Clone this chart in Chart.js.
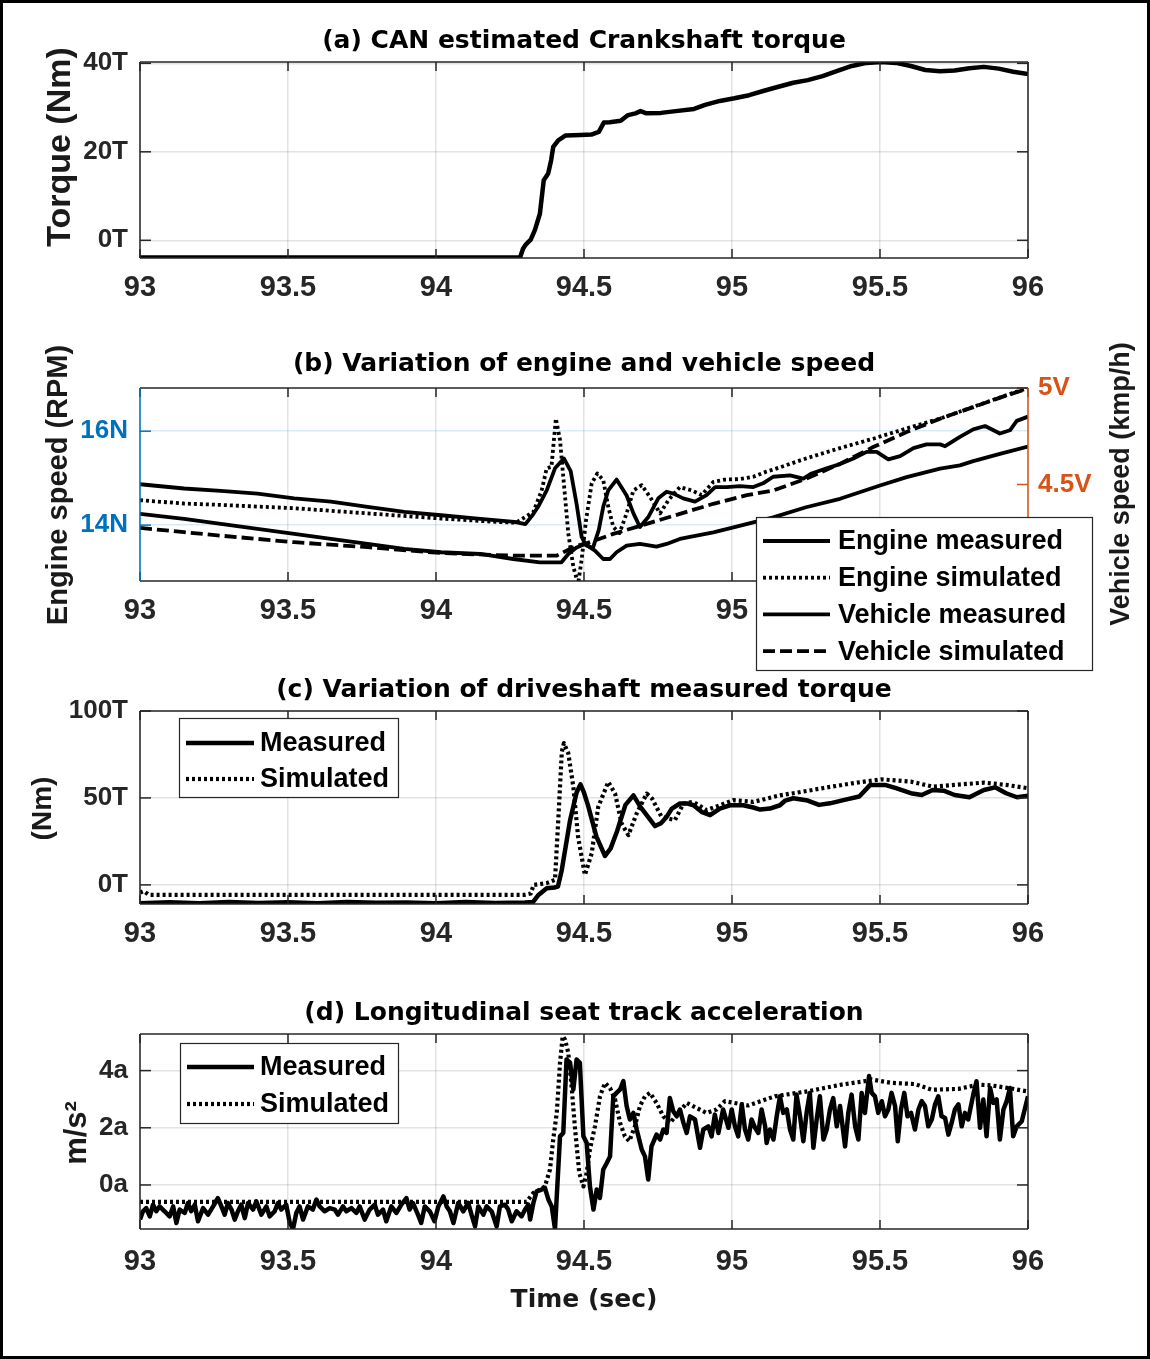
<!DOCTYPE html>
<html>
<head>
<meta charset="utf-8">
<title>Crankshaft torque, engine and vehicle speed, driveshaft torque, seat track acceleration</title>
<script src="https://cdn.jsdelivr.net/npm/chart.js@4.4.1/dist/chart.umd.min.js"></script>
<style>
  html, body { margin: 0; padding: 0; background: #fff; }
  #page { position: relative; width: 1150px; height: 1359px; background: #fff; overflow: hidden; }
  #page canvas { position: absolute; left: 0; }
  #frame { position: absolute; left: 0; top: 0; width: 1150px; height: 1359px; box-sizing: border-box; border: 3px solid #000; pointer-events: none; }
</style>
</head>
<body>
<div id="page">
  <canvas id="crankChart" width="1150" height="322" style="top:0px"></canvas>
  <canvas id="speedChart" width="1150" height="353" style="top:322px"></canvas>
  <canvas id="driveChart" width="1150" height="310" style="top:660px"></canvas>
  <canvas id="accelChart" width="1150" height="389" style="top:970px"></canvas>
  <div id="frame"></div>
</div>
<script>
// ---- shared axis ticks
const timeTicks = [93, 93.5, 94, 94.5, 95, 95.5, 96];
const crankTicks = [0, 20, 40];
const engineTicks = [14, 16];
const vehicleTicks = [4, 4.5, 5];
const driveTicks = [0, 50, 100];
const accelTicks = [0, 2, 4];

// ---- (a) CAN estimated crankshaft torque
const crankTime = [93.000, 94.284, 94.294, 94.304, 94.320, 94.334, 94.351, 94.364, 94.379, 94.389, 94.396, 94.413, 94.438, 94.488, 94.525, 94.550, 94.567, 94.587, 94.624, 94.649, 94.674, 94.691, 94.711, 94.760, 94.810, 94.872, 94.909, 94.959, 95.008, 95.058, 95.108, 95.157, 95.207, 95.256, 95.306, 95.356, 95.405, 95.455, 95.504, 95.554, 95.604, 95.653, 95.703, 95.752, 95.802, 95.851, 95.901, 95.950, 96.000];
const crankTorque = [-3.9, -3.9, -1.9, -0.9, 0.15, 2.3, 6.0, 13.6, 15.1, 18.1, 21.1, 22.6, 23.7, 23.8, 23.9, 24.5, 26.6, 26.7, 27.0, 28.3, 28.7, 29.2, 28.7, 28.8, 29.2, 29.7, 30.6, 31.5, 32.1, 32.8, 33.8, 34.7, 35.6, 36.2, 37.1, 38.3, 39.4, 40.1, 40.3, 40.1, 39.4, 38.5, 38.2, 38.4, 38.9, 39.2, 38.8, 38.1, 37.6];

// ---- (b) engine speed (left axis) and vehicle speed (right axis)
const engMeasTime = [93.000, 93.149, 93.273, 93.397, 93.521, 93.645, 93.769, 93.893, 94.017, 94.141, 94.265, 94.302, 94.327, 94.345, 94.374, 94.402, 94.432, 94.455, 94.475, 94.492, 94.507, 94.530, 94.550, 94.565, 94.582, 94.610, 94.644, 94.667, 94.689, 94.718, 94.751, 94.779, 94.802, 94.835, 94.875, 94.914, 94.943, 94.982, 95.027, 95.072, 95.105, 95.139, 95.196, 95.241, 95.269, 95.320, 95.365, 95.410, 95.455, 95.489, 95.528, 95.568, 95.613, 95.657, 95.703, 95.720, 95.770, 95.815, 95.855, 95.905, 95.939, 95.962, 96.000];
const engMeas = [14.87, 14.78, 14.73, 14.67, 14.57, 14.50, 14.39, 14.28, 14.21, 14.14, 14.07, 14.02, 14.22, 14.39, 14.74, 15.21, 15.42, 15.15, 14.45, 13.75, 13.57, 13.51, 13.90, 14.39, 14.74, 14.97, 14.63, 14.25, 13.96, 14.18, 14.57, 14.71, 14.67, 14.57, 14.50, 14.64, 14.81, 14.81, 14.83, 14.81, 14.89, 15.03, 15.06, 14.99, 15.10, 15.21, 15.30, 15.42, 15.56, 15.56, 15.40, 15.47, 15.64, 15.72, 15.72, 15.68, 15.88, 16.04, 16.11, 15.95, 16.02, 16.22, 16.31];

const engSimTime = [93.000, 93.149, 93.273, 93.521, 93.769, 94.017, 94.200, 94.270, 94.329, 94.357, 94.374, 94.390, 94.405, 94.419, 94.436, 94.447, 94.464, 94.480, 94.492, 94.507, 94.526, 94.545, 94.565, 94.582, 94.599, 94.620, 94.644, 94.667, 94.695, 94.723, 94.757, 94.785, 94.824, 94.864, 94.897, 94.937, 94.976, 95.027, 95.072, 95.117, 95.162, 95.250, 95.365, 95.477, 95.590, 95.703, 95.815, 95.928, 96.000];
const engSim = [14.53, 14.46, 14.43, 14.36, 14.25, 14.14, 14.07, 14.05, 14.28, 14.74, 15.21, 15.24, 16.27, 15.81, 14.60, 13.82, 13.11, 12.75, 13.26, 14.11, 14.89, 15.10, 14.96, 14.39, 13.96, 13.83, 14.25, 14.74, 14.85, 14.60, 14.25, 14.53, 14.81, 14.74, 14.64, 14.92, 14.97, 14.98, 15.03, 15.14, 15.23, 15.42, 15.64, 15.84, 16.06, 16.27, 16.52, 16.77, 16.92];

const vehMeasTime = [93.000, 93.149, 93.273, 93.397, 93.521, 93.645, 93.769, 93.893, 94.017, 94.149, 94.261, 94.351, 94.424, 94.447, 94.475, 94.503, 94.537, 94.565, 94.588, 94.610, 94.644, 94.689, 94.745, 94.779, 94.824, 94.880, 94.937, 95.005, 95.072, 95.139, 95.250, 95.365, 95.500, 95.590, 95.703, 95.770, 95.815, 95.905, 96.000];
const vehMeas = [4.348, 4.322, 4.296, 4.270, 4.244, 4.218, 4.192, 4.166, 4.149, 4.140, 4.114, 4.097, 4.097, 4.140, 4.174, 4.192, 4.157, 4.114, 4.114, 4.149, 4.183, 4.192, 4.178, 4.192, 4.218, 4.235, 4.252, 4.278, 4.304, 4.330, 4.382, 4.426, 4.495, 4.538, 4.582, 4.599, 4.621, 4.659, 4.697];

const vehSimTime = [93.000, 93.149, 93.273, 93.521, 93.769, 94.017, 94.261, 94.407, 94.441, 94.475, 94.509, 94.599, 94.712, 94.824, 94.937, 95.050, 95.139, 95.250, 95.365, 95.477, 95.590, 95.703, 95.815, 95.928, 96.000];
const vehSim = [4.275, 4.253, 4.235, 4.201, 4.175, 4.145, 4.131, 4.131, 4.157, 4.183, 4.195, 4.244, 4.296, 4.348, 4.400, 4.445, 4.469, 4.530, 4.607, 4.694, 4.772, 4.841, 4.901, 4.962, 4.997];

// ---- (c) driveshaft torque
const driveMeasTime = [93.000, 93.100, 93.200, 93.300, 93.400, 93.500, 93.600, 93.700, 93.800, 93.900, 94.000, 94.100, 94.200, 94.300, 94.328, 94.345, 94.374, 94.400, 94.412, 94.425, 94.453, 94.475, 94.488, 94.500, 94.513, 94.542, 94.571, 94.590, 94.612, 94.640, 94.667, 94.690, 94.740, 94.760, 94.779, 94.797, 94.824, 94.850, 94.870, 94.897, 94.926, 94.959, 94.993, 95.038, 95.072, 95.095, 95.128, 95.162, 95.180, 95.207, 95.256, 95.294, 95.331, 95.380, 95.430, 95.467, 95.517, 95.554, 95.604, 95.641, 95.678, 95.715, 95.752, 95.802, 95.851, 95.889, 95.926, 95.963, 96.000];
const driveMeas = [-10.5, -10.0, -10.6, -9.8, -10.4, -10.0, -10.5, -9.9, -10.3, -10.1, -10.5, -9.9, -10.4, -10.1, -9.8, -6.0, -1.9, -1.5, -1.0, 8.6, 37.2, 53.1, 57.8, 53.0, 46.0, 27.8, 16.6, 21.0, 31.0, 46.0, 51.5, 45.0, 33.8, 35.5, 39.1, 43.9, 46.8, 46.8, 45.8, 42.0, 40.1, 43.9, 45.8, 45.8, 44.5, 43.3, 43.9, 45.8, 48.5, 49.8, 48.5, 46.0, 46.9, 48.9, 50.8, 57.5, 57.5, 55.6, 52.7, 51.7, 54.6, 54.2, 51.7, 50.4, 54.6, 56.1, 52.7, 50.4, 51.2];

const driveSimTime = [93.000, 93.012, 93.030, 93.500, 94.000, 94.300, 94.320, 94.330, 94.374, 94.402, 94.413, 94.425, 94.432, 94.447, 94.464, 94.480, 94.503, 94.526, 94.548, 94.582, 94.605, 94.627, 94.650, 94.678, 94.712, 94.730, 94.762, 94.807, 94.836, 94.870, 94.914, 94.959, 95.004, 95.072, 95.162, 95.207, 95.306, 95.405, 95.504, 95.604, 95.678, 95.752, 95.851, 95.926, 96.000];
const driveSim = [-4.4, -3.6, -5.7, -5.7, -5.7, -5.7, -5.0, 0.0, 1.0, 2.9, 37.0, 76.4, 81.5, 75.6, 56.3, 27.7, 5.7, 18.1, 44.8, 59.2, 52.5, 35.3, 28.6, 41.1, 52.5, 49.6, 39.1, 37.2, 46.8, 47.7, 43.0, 45.8, 48.7, 47.7, 51.5, 52.7, 55.6, 58.4, 60.7, 59.4, 56.5, 57.5, 58.8, 57.5, 55.6];

// ---- (d) longitudinal seat track acceleration
const accelMeasTime = [
  93.000, 93.010, 93.021, 93.033, 93.044, 93.055, 93.066, 93.083, 93.100, 93.112, 93.123, 93.134, 93.151, 93.162, 93.173, 93.185, 93.196, 93.213, 93.230, 93.247, 93.263, 93.275, 93.286, 93.297, 93.309, 93.320, 93.331, 93.342, 93.354, 93.365, 93.382, 93.393, 93.410, 93.427, 93.438, 93.455, 93.466, 93.477, 93.494, 93.506, 93.517, 93.528, 93.539, 93.551, 93.567, 93.584, 93.596, 93.607, 93.624, 93.641, 93.658, 93.669, 93.686, 93.697, 93.714, 93.731, 93.742, 93.759, 93.776, 93.793, 93.804, 93.821, 93.832, 93.849, 93.866, 93.883, 93.900, 93.911, 93.922, 93.939, 93.950, 93.962, 93.979, 93.995,
  94.008, 94.025, 94.036, 94.047, 94.059, 94.075, 94.092, 94.109, 94.120, 94.132, 94.143, 94.160, 94.171, 94.188, 94.205, 94.216, 94.233, 94.244, 94.256, 94.272, 94.289, 94.301, 94.312, 94.318, 94.329, 94.340, 94.357, 94.368, 94.380, 94.391, 94.402, 94.419, 94.430, 94.441, 94.453, 94.464, 94.475, 94.486, 94.498, 94.509, 94.520, 94.532, 94.543, 94.554, 94.565, 94.577, 94.588, 94.599, 94.610, 94.622, 94.633, 94.644, 94.655, 94.667, 94.678, 94.695, 94.706, 94.717, 94.728, 94.745, 94.757, 94.768, 94.779, 94.790, 94.802, 94.813, 94.824, 94.836, 94.847, 94.858, 94.875, 94.892, 94.903, 94.920, 94.931, 94.942, 94.954, 94.970,
  94.988, 94.999, 95.010, 95.021, 95.033, 95.044, 95.055, 95.066, 95.078, 95.089, 95.100, 95.112, 95.117, 95.128, 95.140, 95.151, 95.162, 95.173, 95.185, 95.196, 95.207, 95.218, 95.230, 95.241, 95.252, 95.263, 95.275, 95.286, 95.297, 95.309, 95.320, 95.331, 95.342, 95.354, 95.365, 95.382, 95.393, 95.404, 95.416, 95.427, 95.438, 95.449, 95.463, 95.472, 95.483, 95.494, 95.506, 95.517, 95.528, 95.539, 95.551, 95.560, 95.571, 95.582, 95.593, 95.605, 95.618, 95.630, 95.641, 95.652, 95.663, 95.675, 95.686, 95.697, 95.708, 95.720, 95.731, 95.742, 95.753, 95.765, 95.776, 95.787, 95.798, 95.815, 95.826, 95.838, 95.849, 95.860, 95.872, 95.883, 95.894, 95.905, 95.917, 95.928, 95.939, 95.950, 95.962, 95.979, 96.000
];
const accelMeas = [
  -1.21, -0.92, -0.81, -1.10, -0.69, -0.92, -0.75, -0.92, -1.10, -0.75, -1.33, -0.86, -0.98, -0.63, -0.92, -0.69, -1.27, -0.81, -1.04, -0.75, -0.46, -0.75, -1.04, -0.63, -0.86, -1.21, -0.92, -0.69, -1.16, -0.63, -0.86, -0.57, -1.04, -0.75, -1.10, -0.92, -0.63, -0.86, -0.69, -1.33, -1.54, -0.98, -0.75, -1.21, -0.75, -0.86, -0.51, -0.75, -0.92, -0.81, -0.86, -1.04, -0.75, -0.92, -0.81, -0.98, -0.75, -1.21, -0.86, -0.69, -1.04, -0.86, -1.27, -0.75, -0.98, -0.69, -0.46, -0.86, -0.63, -1.04, -1.33, -0.75, -0.92, -1.27,
  -0.75, -0.40, -0.75, -0.92, -1.33, -0.63, -0.92, -0.63, -1.04, -1.45, -0.75, -1.04, -0.75, -0.92, -1.45, -0.75, -0.69, -0.86, -1.27, -0.92, -1.10, -0.86, -0.69, -1.21, -0.63, -0.22, -0.16, -0.10, -0.52, -0.75, -1.54, 1.70, 1.82, 4.39, 4.27, 3.34, 4.39, 4.27, 1.70, 1.47, -0.05, -0.86, -0.16, -0.45, 0.54, 0.77, 1.00, 3.10, 3.22, 3.34, 3.63, 2.76, 2.29, 2.52, 1.94, 1.24, 1.00, 0.19, 1.35, 1.76, 1.59, 1.94, 1.82, 3.04, 2.57, 2.40, 2.64, 2.17, 1.82, 2.40, 2.29, 1.30, 1.94, 2.05, 1.70, 2.46, 1.82, 2.64,
  2.00, 2.64, 2.05, 1.70, 2.82, 1.94, 1.59, 2.29, 2.00, 1.82, 2.64, 2.05, 1.47, 1.94, 1.59, 2.40, 3.10, 2.52, 2.64, 1.94, 1.59, 3.16, 2.40, 1.53, 2.52, 3.22, 1.30, 2.29, 3.10, 1.59, 1.94, 2.64, 3.04, 2.05, 2.76, 1.35, 2.52, 3.16, 2.05, 1.59, 3.22, 2.52, 3.81, 3.22, 3.10, 2.52, 2.93, 2.40, 2.64, 3.22, 2.76, 1.53, 2.64, 3.22, 2.40, 2.52, 1.94, 2.64, 2.93, 2.76, 2.05, 2.29, 2.82, 3.10, 2.40, 2.34, 1.76, 2.17, 2.64, 2.82, 2.05, 2.52, 2.29, 3.16, 3.63, 2.00, 2.99, 1.70, 3.39, 2.87, 2.99, 1.59, 2.64, 2.93, 3.39, 1.70, 2.05, 2.23, 3.10
];
const accelSimTime = [93.000, 93.500, 94.000, 94.306, 94.329, 94.351, 94.368, 94.385, 94.396, 94.408, 94.419, 94.428, 94.436, 94.447, 94.458, 94.470, 94.484, 94.498, 94.509, 94.520, 94.537, 94.554, 94.571, 94.588, 94.605, 94.622, 94.638, 94.653, 94.672, 94.689, 94.706, 94.723, 94.745, 94.768, 94.790, 94.819, 94.847, 94.881, 94.914, 94.948, 94.976, 95.055, 95.145, 95.258, 95.370, 95.449, 95.472, 95.539, 95.618, 95.675, 95.765, 95.832, 95.877, 95.934, 96.000];
const accelSim = [-0.59, -0.59, -0.59, -0.59, -0.28, -0.16, -0.05, 0.54, 1.59, 2.52, 4.27, 5.20, 5.08, 4.62, 3.45, 1.94, 0.42, -0.05, 0.42, 1.24, 2.05, 3.10, 3.57, 3.39, 2.99, 2.17, 1.70, 1.53, 2.05, 2.76, 3.10, 3.22, 2.87, 2.40, 2.17, 2.52, 2.87, 2.69, 2.52, 2.64, 2.93, 2.78, 3.10, 3.28, 3.51, 3.63, 3.69, 3.57, 3.53, 3.33, 3.36, 3.51, 3.48, 3.39, 3.27];

// ---- look
Chart.defaults.animation = false;
Chart.defaults.font.family = 'Liberation Sans';
Chart.defaults.font.weight = 'bold';
Chart.defaults.font.size = 26;
Chart.defaults.color = '#262626';

const AXIS = '#262626';
const GRID = 'rgba(38,38,38,0.13)';
const BLUE = '#0072BD';
const ORANGE = '#D95319';

function pts(ts, vs) {
  const n = Math.min(ts.length, vs.length);
  const out = [];
  for (let i = 0; i < n; i++) out.push({ x: ts[i], y: vs[i] });
  return out;
}

function line(label, data, width, dash, axis) {
  return {
    label: label, data: data,
    borderColor: '#000', borderWidth: width, borderDash: dash || [],
    borderJoinStyle: 'round', pointRadius: 0, fill: false,
    yAxisID: axis || 'y'
  };
}

function xScale(height, tickPad, title) {
  return {
    type: 'linear', min: 93, max: 96,
    afterBuildTicks: s => { s.ticks = timeTicks.map(v => ({ value: v })); },
    ticks: { callback: v => String(v), padding: tickPad, autoSkip: false, maxRotation: 0,
      color: AXIS, font: { family: 'Liberation Sans', size: 29, weight: 'bold' } },
    grid: { color: GRID, lineWidth: 1.5, drawTicks: false },
    border: { display: false },
    title: title || { display: false },
    afterFit: s => { s.height = height; s.paddingLeft = 0; s.paddingRight = 0; }
  };
}

function yScale(o) {
  return {
    type: 'linear', position: o.position || 'left', min: o.min, max: o.max,
    afterBuildTicks: s => { s.ticks = o.ticks.map(v => ({ value: v })); },
    ticks: { callback: v => v + o.suffix, padding: o.tickPad, color: o.color || AXIS,
      font: { family: 'Liberation Sans', size: 26, weight: 'bold' } },
    grid: { display: o.grid !== false, color: o.gridColor || GRID, lineWidth: 1.5, drawTicks: false },
    border: { display: false },
    title: { display: false },
    afterFit: s => { s.width = o.width; s.paddingTop = 0; s.paddingBottom = 0; }
  };
}

// box round the plot area with inward ticks, like the original figure
const matlabBox = {
  id: 'matlabBox',
  afterDatasetsDraw(chart, args, o) {
    const { ctx, chartArea: a, scales } = chart;
    const seg = (x1, y1, x2, y2, c) => {
      ctx.strokeStyle = c; ctx.beginPath(); ctx.moveTo(x1, y1); ctx.lineTo(x2, y2); ctx.stroke();
    };
    ctx.save();
    ctx.lineWidth = 1.5;
    const xs = scales.x;
    xs.ticks.forEach(t => {
      const p = xs.getPixelForValue(t.value);
      seg(p, a.bottom, p, a.bottom - 9, AXIS);
      seg(p, a.top, p, a.top + 9, AXIS);
    });
    const yl = scales[o.leftAxis], yr = scales[o.rightAxis];
    yl.ticks.forEach(t => { const p = yl.getPixelForValue(t.value); seg(a.left, p, a.left + 11, p, o.leftColor); });
    yr.ticks.forEach(t => { const p = yr.getPixelForValue(t.value); seg(a.right, p, a.right - 11, p, o.rightColor); });
    seg(a.left, a.top, a.right, a.top, AXIS);
    seg(a.left, a.bottom, a.right, a.bottom, AXIS);
    seg(a.left, a.top, a.left, a.bottom, o.leftColor);
    seg(a.right, a.top, a.right, a.bottom, o.rightColor);
    ctx.restore();
  }
};

// panel title (centred on the plot area) and the rotated axis titles
const panelTexts = {
  id: 'panelTexts',
  afterDraw(chart, args, o) {
    if (!o || !o.items) return;
    const { ctx, chartArea: a } = chart;
    o.items.forEach(it => {
      ctx.save();
      const x = it.x === 'center' ? (a.left + a.right) / 2 : it.x;
      ctx.translate(x, it.y);
      if (it.rotate) ctx.rotate(-Math.PI / 2);
      ctx.font = 'bold ' + it.size + 'px "' + (it.family || 'Liberation Sans') + '"';
      ctx.fillStyle = it.color || '#1a1a1a';
      ctx.textAlign = 'center';
      ctx.textBaseline = 'middle';
      ctx.fillText(it.text, 0, 0);
      ctx.restore();
    });
  }
};

// boxed legend that may sit over the axes
const boxLegend = {
  id: 'boxLegend',
  afterDraw(chart, args, o) {
    if (!o || !o.w) return;
    const ctx = chart.ctx;
    ctx.save();
    ctx.fillStyle = '#fff';
    ctx.fillRect(o.x, o.y, o.w, o.h);
    ctx.strokeStyle = AXIS;
    ctx.lineWidth = 1.2;
    ctx.strokeRect(o.x + 0.5, o.y + 0.5, o.w, o.h);
    chart.data.datasets.forEach((ds, i) => {
      const cy = o.y + o.first + i * o.step;
      ctx.beginPath();
      ctx.setLineDash(ds.borderDash || []);
      ctx.lineWidth = ds.borderWidth;
      ctx.strokeStyle = ds.borderColor;
      ctx.moveTo(o.x + o.lineFrom, cy);
      ctx.lineTo(o.x + o.lineTo, cy);
      ctx.stroke();
      ctx.setLineDash([]);
      ctx.fillStyle = '#000';
      ctx.font = 'bold 27px "Liberation Sans"';
      ctx.textAlign = 'left';
      ctx.textBaseline = 'middle';
      ctx.fillText(ds.label, o.x + o.textX, cy + 1);
    });
    ctx.restore();
  }
};

const noLegend = { legend: { display: false }, tooltip: { enabled: false }, title: { display: false } };
const PLUGINS = [matlabBox, panelTexts, boxLegend];

function title(text, y) {
  return { text: text, x: 'center', y: y, size: 25, family: 'DejaVu Sans', color: '#000' };
}

// (a)
new Chart(document.getElementById('crankChart'), {
  type: 'line',
  data: { datasets: [line('Crankshaft torque', pts(crankTime, crankTorque), 4.5)] },
  options: {
    responsive: false,
    layout: { padding: { left: 0, right: 122, top: 62, bottom: 0 } },
    scales: {
      x: xScale(64, 13),
      y: yScale({ min: -4, max: 40.3, ticks: crankTicks, suffix: 'T', width: 140, tickPad: 12 })
    },
    plugins: Object.assign({}, noLegend, {
      matlabBox: { leftAxis: 'y', rightAxis: 'y', leftColor: AXIS, rightColor: AXIS },
      panelTexts: { items: [
        title('(a) CAN estimated Crankshaft torque', 41),
        { text: 'Torque (Nm)', x: 61, y: 147, size: 34, rotate: true }
      ] }
    })
  },
  plugins: PLUGINS
});

// (b)
new Chart(document.getElementById('speedChart'), {
  type: 'line',
  data: { datasets: [
    line('Engine measured', pts(engMeasTime, engMeas), 3.8, [], 'y'),
    line('Engine simulated', pts(engSimTime, engSim), 3.8, [3, 3], 'y'),
    line('Vehicle measured', pts(vehMeasTime, vehMeas), 3.8, [], 'y2'),
    line('Vehicle simulated', pts(vehSimTime, vehSim), 3.8, [12, 5], 'y2')
  ] },
  options: {
    responsive: false,
    layout: { padding: { left: 0, right: 0, top: 66, bottom: 0 } },
    scales: {
      x: xScale(94, 13),
      y: yScale({ min: 12.81, max: 16.92, ticks: engineTicks, suffix: 'N', width: 140, tickPad: 12,
        color: BLUE, gridColor: 'rgba(0,114,189,0.14)' }),
      y2: yScale({ position: 'right', min: 4, max: 5, ticks: vehicleTicks, suffix: 'V', width: 122, tickPad: 10,
        color: ORANGE, grid: false })
    },
    plugins: Object.assign({}, noLegend, {
      matlabBox: { leftAxis: 'y', rightAxis: 'y2', leftColor: BLUE, rightColor: ORANGE },
      panelTexts: { items: [
        title('(b) Variation of engine and vehicle speed', 42.6),
        { text: 'Engine speed (RPM)', x: 59, y: 163, size: 29, rotate: true },
        { text: 'Vehicle speed (kmp/h)', x: 1121.5, y: 162, size: 27, rotate: true }
      ] },
      boxLegend: { x: 756, y: 195, w: 336, h: 153, first: 24, step: 36.7, lineFrom: 7, lineTo: 74, textX: 82 }
    })
  },
  plugins: PLUGINS
});

// (c)
new Chart(document.getElementById('driveChart'), {
  type: 'line',
  data: { datasets: [
    line('Measured', pts(driveMeasTime, driveMeas), 4.5),
    line('Simulated', pts(driveSimTime, driveSim), 4.2, [3, 3])
  ] },
  options: {
    responsive: false,
    layout: { padding: { left: 0, right: 122, top: 51, bottom: 0 } },
    scales: {
      x: xScale(66, 13),
      y: yScale({ min: -11, max: 100, ticks: driveTicks, suffix: 'T', width: 140, tickPad: 12 })
    },
    plugins: Object.assign({}, noLegend, {
      matlabBox: { leftAxis: 'y', rightAxis: 'y', leftColor: AXIS, rightColor: AXIS },
      panelTexts: { items: [
        title('(c) Variation of driveshaft measured torque', 30.6),
        { text: '(Nm)', x: 43, y: 148.5, size: 28, rotate: true }
      ] },
      boxLegend: { x: 179, y: 58, w: 219, h: 79, first: 25, step: 36, lineFrom: 7, lineTo: 75, textX: 81 }
    })
  },
  plugins: PLUGINS
});

// (d)
new Chart(document.getElementById('accelChart'), {
  type: 'line',
  data: { datasets: [
    line('Measured', pts(accelMeasTime, accelMeas), 4.5),
    line('Simulated', pts(accelSimTime, accelSim), 4.2, [3, 3])
  ] },
  options: {
    responsive: false,
    layout: { padding: { left: 0, right: 122, top: 64, bottom: 0 } },
    scales: {
      x: xScale(130, 16, { display: true, text: 'Time (sec)', color: '#1a1a1a',
        font: { family: 'DejaVu Sans', size: 25, weight: 'bold' }, padding: { top: 0, bottom: 44 } }),
      y: yScale({ min: -1.54, max: 5.28, ticks: accelTicks, suffix: 'a', width: 140, tickPad: 12 })
    },
    plugins: Object.assign({}, noLegend, {
      matlabBox: { leftAxis: 'y', rightAxis: 'y', leftColor: AXIS, rightColor: AXIS },
      panelTexts: { items: [
        title('(d) Longitudinal seat track acceleration', 43),
        { text: 'm/s²', x: 77, y: 163, size: 31, rotate: true }
      ] },
      boxLegend: { x: 180, y: 73, w: 218, h: 80, first: 24, step: 37, lineFrom: 7, lineTo: 74, textX: 80 }
    })
  },
  plugins: PLUGINS
});
</script>
</body>
</html>
